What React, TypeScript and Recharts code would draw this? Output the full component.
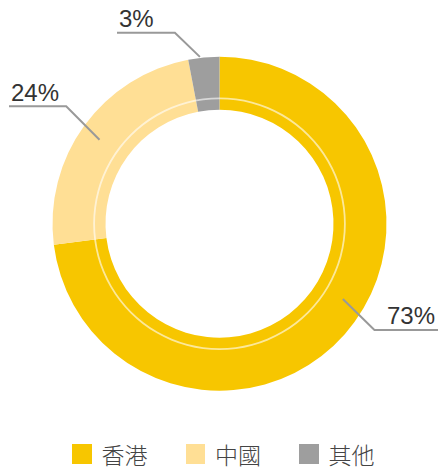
import React from "react";
import { PieChart, Pie, Cell, Legend } from "recharts";

const categories = ["香港", "中國", "其他"];
const shares = [73, 24, 3];
const labels = ["73%", "24%", "3%"];
const colors = ["#F7C600", "#FFDF95", "#9E9E9E"];

const data = categories.map((name, i) => ({ name, value: shares[i], label: labels[i] }));
const ringData = [{ name: "ring", value: 1 }];

const CX = 219.5;
const CY = 223.7;
const OUTER = 167;
const INNER = 114;

// leader-line layout per slice (decoration only)
const leaders = [
  { angleOffset: 10, radius: 144.5, elbowDx: 31.6, elbowDy: 31, endX: 438, anchor: "end", textX: 435, textDy: -6 },
  { angleOffset: 1, radius: 146.5, elbowDx: -33.3, elbowDy: -33.3, endX: 9, anchor: "start", textX: 11, textDy: -5 },
  { angleOffset: 1.3, radius: 168, elbowDx: -25, elbowDy: -24, endX: 117, anchor: "start", textX: 119, textDy: -6 },
];

const RAD = Math.PI / 180;

const renderLabel = (props: any) => {
  const { cx, cy, midAngle, index } = props;
  const l = leaders[index];
  const a = midAngle + l.angleOffset;
  const sx = cx + Math.cos(-RAD * a) * l.radius;
  const sy = cy + Math.sin(-RAD * a) * l.radius;
  const ex = sx + l.elbowDx;
  const ey = sy + l.elbowDy;
  return (
    <g key={`lbl-${index}`}>
      <polyline
        points={`${sx},${sy} ${ex},${ey} ${l.endX},${ey}`}
        fill="none"
        stroke="#999999"
        strokeWidth={2}
      />
      <text
        x={l.textX}
        y={ey + l.textDy}
        textAnchor={l.anchor}
        fontSize={24}
        fontFamily="'Liberation Sans', Arial, sans-serif"
        fill="#333333"
      >
        {data[index].label}
      </text>
    </g>
  );
};

const renderLegend = () => (
  <div style={{ display: "flex", alignItems: "center" }}>
    {data.map((d, i) => (
      <div key={d.name} style={{ display: "flex", alignItems: "center", marginRight: 38 }}>
        <div style={{ width: 19.5, height: 19.5, background: colors[i], marginRight: 10 }} />
        <span
          style={{
            fontFamily: "'Noto Sans CJK TC', 'Noto Sans CJK SC', sans-serif",
            fontWeight: 300,
            fontSize: 23,
            lineHeight: "normal",
            color: "#444444",
            whiteSpace: "nowrap",
          }}
        >
          {d.name}
        </span>
      </div>
    ))}
  </div>
);

export default function App() {
  return (
    <div style={{ position: "absolute", left: 0, top: 0, width: 438, height: 468 }}>
      <PieChart width={438} height={468} margin={{ top: 0, right: 0, bottom: 0, left: 0 }}>
        <Pie
          data={data}
          dataKey="value"
          nameKey="name"
          cx={CX}
          cy={CY}
          outerRadius={OUTER}
          innerRadius={INNER}
          startAngle={90}
          endAngle={-270}
          stroke="none"
          label={renderLabel}
          labelLine={false}
          isAnimationActive={false}
        >
          {data.map((d, i) => (
            <Cell key={d.name} fill={colors[i]} />
          ))}
        </Pie>
        <Pie
          data={ringData}
          dataKey="value"
          cx={CX}
          cy={CY}
          outerRadius={126.3}
          innerRadius={124.5}
          startAngle={90}
          endAngle={-270}
          stroke="none"
          fill="#ffffff"
          fillOpacity={0.6}
          legendType="none"
          isAnimationActive={false}
        />
        <Legend
          content={renderLegend}
          wrapperStyle={{ position: "absolute", left: 72, top: 437, width: 366, height: "auto" }}
        />
      </PieChart>
    </div>
  );
}
